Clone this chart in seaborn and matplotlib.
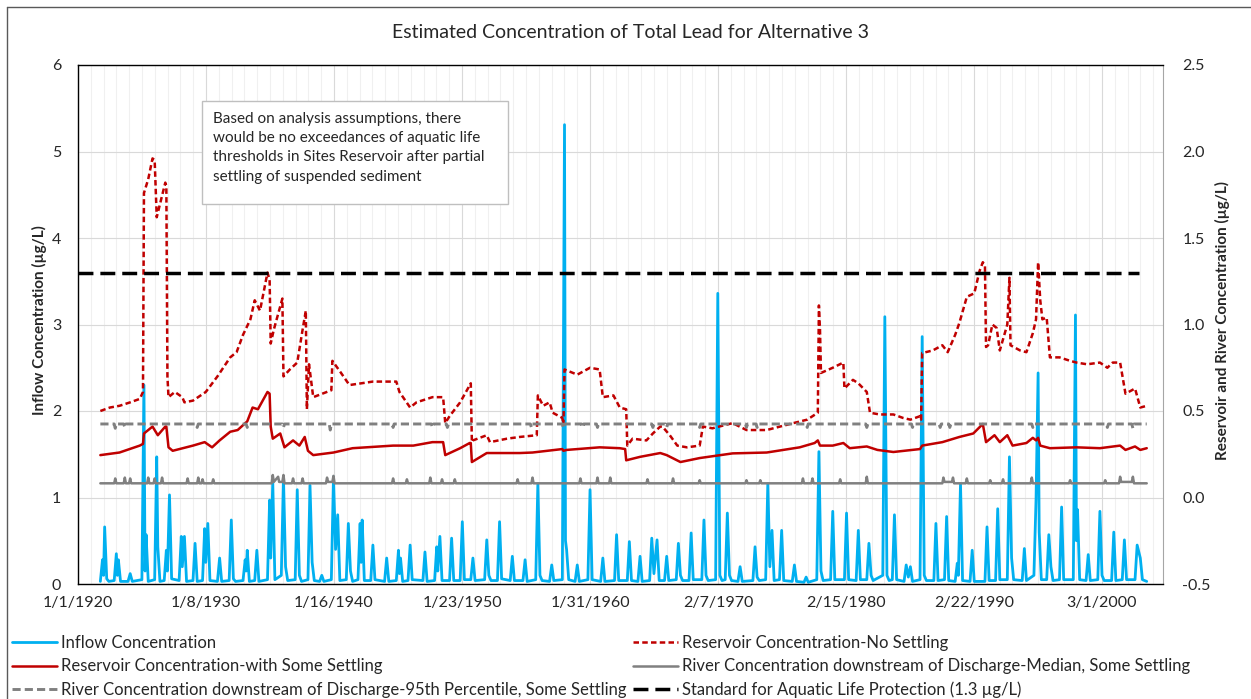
import pandas as pd
import seaborn as sns
import matplotlib.pyplot as plt
from matplotlib.lines import Line2D
from matplotlib.patches import Rectangle


## DATA (monthly)
inflow = [
    ("1921-10", 0.03), ("1921-12", 0.28), ("1922-01", 0.10), ("1922-02", 0.66), ("1922-04", 0.06),
    ("1922-06", 0.03), ("1922-11", 0.04), ("1923-01", 0.35), ("1923-02", 0.10), ("1923-03", 0.28),
    ("1923-05", 0.03), ("1923-12", 0.03), ("1924-02", 0.12), ("1924-04", 0.03), ("1925-01", 0.05),
    ("1925-03", 2.30), ("1925-04", 0.15), ("1925-05", 0.57), ("1925-07", 0.03), ("1926-01", 0.05),
    ("1926-03", 1.47), ("1926-04", 0.43), ("1926-06", 0.03), ("1926-10", 0.04), ("1926-12", 0.39),
    ("1927-01", 0.15), ("1927-03", 1.03), ("1927-05", 0.06), ("1927-12", 0.04), ("1928-02", 0.55),
    ("1928-03", 0.20), ("1928-05", 0.55), ("1928-07", 0.03), ("1929-01", 0.04), ("1929-03", 0.47),
    ("1929-05", 0.03), ("1929-10", 0.04), ("1929-12", 0.64), ("1930-01", 0.25), ("1930-03", 0.70),
    ("1930-05", 0.04), ("1930-12", 0.03), ("1931-02", 0.30), ("1931-04", 0.03), ("1931-11", 0.04),
    ("1932-01", 0.74), ("1932-03", 0.06), ("1932-05", 0.03), ("1932-12", 0.04), ("1933-02", 0.28),
    ("1933-03", 0.15), ("1933-04", 0.39), ("1933-06", 0.03), ("1933-11", 0.04), ("1934-01", 0.39),
    ("1934-03", 0.03), ("1934-11", 0.05), ("1935-01", 0.97), ("1935-02", 0.30), ("1935-04", 1.18),
    ("1935-06", 0.05), ("1935-12", 0.10), ("1936-02", 1.24), ("1936-04", 0.20), ("1936-06", 0.04),
    ("1937-01", 0.05), ("1937-03", 1.09), ("1937-05", 0.10), ("1937-07", 0.03), ("1938-01", 0.05),
    ("1938-03", 1.14), ("1938-05", 0.25), ("1938-07", 0.04), ("1938-12", 0.03), ("1939-02", 0.10),
    ("1939-04", 0.03), ("1939-11", 0.05), ("1940-01", 1.24), ("1940-03", 0.40), ("1940-05", 0.80),
    ("1940-07", 0.04), ("1941-01", 0.05), ("1941-03", 0.70), ("1941-05", 0.15), ("1941-07", 0.03),
    ("1941-12", 0.05), ("1942-02", 0.70), ("1942-03", 0.25), ("1942-04", 0.74), ("1942-06", 0.04),
    ("1942-12", 0.04), ("1943-02", 0.45), ("1943-04", 0.05), ("1944-01", 0.03), ("1944-03", 0.30),
    ("1944-05", 0.03), ("1944-12", 0.04), ("1945-02", 0.39), ("1945-03", 0.12), ("1945-04", 0.30),
    ("1945-06", 0.03), ("1945-11", 0.04), ("1946-01", 0.45), ("1946-03", 0.05), ("1947-01", 0.04),
    ("1947-03", 0.37), ("1947-05", 0.03), ("1947-12", 0.04), ("1948-02", 0.43), ("1948-03", 0.15),
    ("1948-05", 0.55), ("1948-07", 0.04), ("1949-02", 0.04), ("1949-04", 0.53), ("1949-06", 0.04),
    ("1949-12", 0.04), ("1950-02", 0.72), ("1950-04", 0.05), ("1950-10", 0.05), ("1950-12", 0.30),
    ("1951-02", 0.04), ("1951-11", 0.05), ("1952-01", 0.51), ("1952-03", 0.10), ("1952-05", 0.04),
    ("1952-11", 0.04), ("1953-01", 0.72), ("1953-03", 0.06), ("1953-11", 0.04), ("1954-01", 0.32),
    ("1954-03", 0.04), ("1954-11", 0.04), ("1955-01", 0.28), ("1955-03", 0.03), ("1955-11", 0.05),
    ("1956-01", 1.16), ("1956-03", 0.10), ("1956-05", 0.04), ("1956-12", 0.03), ("1957-02", 0.22),
    ("1957-04", 0.04), ("1957-12", 0.05), ("1958-02", 5.31), ("1958-03", 0.50), ("1958-04", 0.40),
    ("1958-06", 0.05), ("1958-12", 0.03), ("1959-02", 0.22), ("1959-04", 0.03), ("1959-12", 0.05),
    ("1960-02", 1.09), ("1960-04", 0.05), ("1960-12", 0.03), ("1961-02", 0.30), ("1961-04", 0.03),
    ("1962-01", 0.04), ("1962-03", 0.57), ("1962-05", 0.04), ("1963-01", 0.04), ("1963-03", 0.49),
    ("1963-05", 0.04), ("1963-11", 0.03), ("1964-01", 0.32), ("1964-03", 0.03), ("1964-10", 0.04),
    ("1964-12", 0.53), ("1965-02", 0.12), ("1965-05", 0.51), ("1965-07", 0.04), ("1965-12", 0.04),
    ("1966-02", 0.32), ("1966-04", 0.04), ("1966-11", 0.05), ("1967-01", 0.47), ("1967-03", 0.10),
    ("1967-05", 0.04), ("1967-11", 0.04), ("1968-01", 0.59), ("1968-03", 0.05), ("1968-11", 0.05),
    ("1969-01", 0.74), ("1969-03", 0.10), ("1969-05", 0.04), ("1969-12", 0.05), ("1970-02", 3.36),
    ("1970-04", 0.10), ("1970-06", 0.04), ("1970-09", 0.05), ("1970-11", 0.82), ("1971-01", 0.10),
    ("1971-03", 0.04), ("1971-09", 0.03), ("1971-11", 0.20), ("1972-01", 0.03), ("1972-11", 0.04),
    ("1973-01", 0.43), ("1973-03", 0.08), ("1973-05", 0.04), ("1973-11", 0.05), ("1974-01", 1.16),
    ("1974-03", 0.20), ("1974-05", 0.62), ("1974-07", 0.04), ("1974-12", 0.05), ("1975-02", 0.62),
    ("1975-04", 0.04), ("1975-12", 0.03), ("1976-02", 0.22), ("1976-04", 0.03), ("1976-11", 0.02),
    ("1977-01", 0.08), ("1977-03", 0.02), ("1977-11", 0.05), ("1978-01", 1.53), ("1978-03", 0.15),
    ("1978-05", 0.04), ("1978-12", 0.05), ("1979-02", 0.84), ("1979-04", 0.05), ("1980-01", 0.05),
    ("1980-03", 0.82), ("1980-05", 0.05), ("1980-12", 0.04), ("1981-02", 0.62), ("1981-04", 0.05),
    ("1981-10", 0.05), ("1981-12", 0.47), ("1982-02", 0.10), ("1982-04", 0.04), ("1983-01", 0.10),
    ("1983-03", 3.09), ("1983-05", 0.10), ("1983-07", 0.04), ("1983-10", 0.05), ("1983-12", 0.80),
    ("1984-02", 0.05), ("1984-09", 0.03), ("1984-11", 0.22), ("1985-01", 0.08), ("1985-03", 0.20),
    ("1985-05", 0.03), ("1985-12", 0.05), ("1986-02", 2.86), ("1986-04", 0.10), ("1986-06", 0.04),
    ("1987-01", 0.04), ("1987-03", 0.70), ("1987-05", 0.04), ("1987-11", 0.05), ("1988-01", 0.78),
    ("1988-03", 0.04), ("1988-09", 0.03), ("1988-11", 0.24), ("1988-12", 0.10), ("1989-02", 1.16),
    ("1989-04", 0.04), ("1989-11", 0.03), ("1990-01", 0.39), ("1990-03", 0.03), ("1991-01", 0.03),
    ("1991-03", 0.66), ("1991-05", 0.04), ("1991-11", 0.04), ("1992-01", 0.87), ("1992-03", 0.05),
    ("1992-10", 0.05), ("1992-12", 1.47), ("1993-02", 0.30), ("1993-04", 0.05), ("1993-12", 0.04),
    ("1994-02", 0.41), ("1994-04", 0.04), ("1994-11", 0.10), ("1995-01", 0.98), ("1995-03", 2.44),
    ("1995-04", 0.60), ("1995-06", 0.05), ("1995-11", 0.05), ("1996-01", 0.57), ("1996-03", 0.20),
    ("1996-05", 0.04), ("1996-11", 0.05), ("1997-01", 0.89), ("1997-03", 0.05), ("1997-12", 0.05),
    ("1998-02", 3.11), ("1998-03", 0.50), ("1998-04", 0.86), ("1998-06", 0.05), ("1998-12", 0.04),
    ("1999-02", 0.34), ("1999-04", 0.04), ("1999-11", 0.05), ("2000-01", 0.84), ("2000-03", 0.10),
    ("2000-05", 0.04), ("2000-12", 0.04), ("2001-02", 0.60), ("2001-04", 0.04), ("2001-10", 0.05),
    ("2001-12", 0.51), ("2002-02", 0.05), ("2002-10", 0.05), ("2002-12", 0.45), ("2003-01", 0.40),
    ("2003-03", 0.30), ("2003-05", 0.05), ("2003-09", 0.03),
]

res_no_settling = [
    ("1921-10", 0.50), ("1922-07", 0.52), ("1923-04", 0.53), ("1924-02", 0.55), ("1924-11", 0.57),
    ("1925-02", 0.61), ("1925-03", 1.76), ("1925-07", 1.84), ("1925-11", 1.96), ("1926-01", 1.95),
    ("1926-03", 1.62), ("1926-07", 1.72), ("1926-11", 1.82), ("1926-12", 1.80), ("1927-01", 0.70),
    ("1927-02", 0.58), ("1927-08", 0.61), ("1928-03", 0.58), ("1928-05", 0.55), ("1929-01", 0.56),
    ("1930-01", 0.61), ("1930-12", 0.70), ("1931-12", 0.81), ("1932-06", 0.84), ("1932-12", 0.94),
    ("1933-07", 1.03), ("1933-11", 1.14), ("1934-04", 1.08), ("1934-11", 1.30), ("1935-01", 1.26),
    ("1935-02", 0.89), ("1935-05", 0.97), ("1936-01", 1.15), ("1936-02", 0.70), ("1936-08", 0.74),
    ("1937-03", 0.78), ("1937-08", 0.97), ("1937-11", 1.08), ("1937-12", 0.51), ("1938-02", 0.77),
    ("1938-06", 0.58), ("1939-11", 0.62), ("1939-12", 0.79), ("1940-07", 0.73), ("1941-04", 0.65),
    ("1943-02", 0.67), ("1944-12", 0.67), ("1945-03", 0.61), ("1946-01", 0.52), ("1946-07", 0.55),
    ("1947-10", 0.58), ("1948-08", 0.58), ("1948-10", 0.43), ("1949-02", 0.47), ("1949-12", 0.55),
    ("1950-10", 0.66), ("1950-11", 0.32), ("1950-12", 0.33), ("1952-01", 0.36), ("1952-04", 0.32),
    ("1953-08", 0.34), ("1954-08", 0.35), ("1955-12", 0.36), ("1956-01", 0.59), ("1956-06", 0.53),
    ("1956-12", 0.55), ("1957-03", 0.49), ("1957-12", 0.46), ("1958-01", 0.42), ("1958-02", 0.74),
    ("1959-02", 0.71), ("1960-02", 0.75), ("1960-11", 0.74), ("1961-02", 0.58), ("1961-12", 0.59),
    ("1962-06", 0.52), ("1962-12", 0.51), ("1963-01", 0.30), ("1963-06", 0.34), ("1964-07", 0.33),
    ("1965-01", 0.37), ("1965-08", 0.41), ("1965-10", 0.41), ("1966-05", 0.36), ("1966-12", 0.30),
    ("1967-09", 0.29), ("1968-09", 0.30), ("1968-12", 0.41), ("1969-09", 0.40), ("1971-04", 0.43),
    ("1972-05", 0.39), ("1973-12", 0.39), ("1976-01", 0.43), ("1977-02", 0.45), ("1977-12", 0.49),
    ("1978-01", 1.11), ("1978-02", 0.97), ("1978-03", 0.72), ("1979-02", 0.75), ("1979-12", 0.78),
    ("1980-01", 0.63), ("1980-09", 0.68), ("1981-02", 0.66), ("1981-10", 0.61), ("1982-01", 0.49),
    ("1982-10", 0.48), ("1983-11", 0.48), ("1984-08", 0.46), ("1985-03", 0.45), ("1985-12", 0.47),
    ("1986-01", 0.45), ("1986-02", 0.835), ("1986-12", 0.85), ("1987-09", 0.88), ("1988-02", 0.84),
    ("1988-09", 0.94), ("1989-01", 1.01), ("1989-08", 1.16), ("1990-03", 1.18), ("1990-08", 1.31),
    ("1990-11", 1.36), ("1991-01", 1.34), ("1991-02", 0.87), ("1991-04", 0.88), ("1991-08", 1.00),
    ("1991-12", 0.98), ("1992-03", 0.85), ("1992-10", 1.00), ("1992-12", 1.27), ("1993-01", 0.88),
    ("1993-10", 0.85), ("1994-04", 0.84), ("1994-10", 0.95), ("1995-01", 1.03), ("1995-03", 1.36),
    ("1995-05", 1.14), ("1995-07", 1.03), ("1995-11", 1.04), ("1996-02", 0.81), ("1996-11", 0.81),
    ("1997-09", 0.79), ("1998-03", 0.78), ("1999-01", 0.77), ("2000-01", 0.78), ("2000-08", 0.75),
    ("2001-01", 0.78), ("2001-08", 0.78), ("2002-01", 0.60), ("2002-10", 0.63), ("2003-03", 0.52),
    ("2003-09", 0.53),
]

res_some_settling = [
    ("1921-10", 0.245), ("1923-04", 0.26), ("1924-11", 0.30), ("1925-02", 0.31), ("1925-03", 0.37),
    ("1925-11", 0.41), ("1926-04", 0.36), ("1926-11", 0.41), ("1926-12", 0.41), ("1927-02", 0.29),
    ("1927-06", 0.27), ("1929-01", 0.30), ("1929-12", 0.32), ("1930-07", 0.29), ("1931-02", 0.33),
    ("1931-12", 0.38), ("1932-07", 0.39), ("1933-04", 0.44), ("1933-09", 0.52), ("1934-02", 0.51),
    ("1934-11", 0.61), ("1935-01", 0.60), ("1935-02", 0.41), ("1935-04", 0.34), ("1935-11", 0.37),
    ("1936-03", 0.29), ("1936-11", 0.33), ("1937-05", 0.30), ("1937-10", 0.35), ("1938-01", 0.27),
    ("1938-06", 0.245), ("1940-01", 0.26), ("1941-07", 0.285), ("1944-09", 0.30), ("1946-04", 0.30),
    ("1947-10", 0.32), ("1948-08", 0.32), ("1948-10", 0.245), ("1949-12", 0.285), ("1950-09", 0.315),
    ("1950-10", 0.315), ("1950-11", 0.205), ("1952-01", 0.257), ("1954-08", 0.257), ("1955-08", 0.26),
    ("1957-12", 0.28), ("1958-01", 0.27), ("1958-04", 0.275), ("1960-11", 0.29), ("1962-06", 0.285),
    ("1962-11", 0.28), ("1962-12", 0.215), ("1964-01", 0.235), ("1965-08", 0.257), ("1966-02", 0.245),
    ("1967-03", 0.205), ("1968-09", 0.228), ("1971-04", 0.255), ("1973-12", 0.26), ("1976-07", 0.29),
    ("1977-09", 0.315), ("1977-12", 0.33), ("1978-02", 0.30), ("1979-02", 0.30), ("1979-12", 0.315),
    ("1980-06", 0.285), ("1981-10", 0.295), ("1982-08", 0.275), ("1983-11", 0.263), ("1985-12", 0.28),
    ("1986-02", 0.30), ("1987-09", 0.32), ("1989-01", 0.35), ("1990-02", 0.37), ("1990-11", 0.425),
    ("1991-02", 0.32), ("1991-10", 0.36), ("1992-03", 0.32), ("1992-10", 0.36), ("1993-03", 0.30),
    ("1994-04", 0.315), ("1994-10", 0.345), ("1995-01", 0.33), ("1995-03", 0.345), ("1995-05", 0.30),
    ("1996-02", 0.285), ("1998-03", 0.29), ("2000-01", 0.285), ("2001-08", 0.30), ("2002-01", 0.275),
    ("2002-10", 0.295), ("2003-03", 0.275), ("2003-09", 0.285),
]

river_median = [
    ("1921-10", 0.082), ("1922-11", 0.082), ("1922-12", 0.11), ("1923-01", 0.082), ("1923-08", 0.082),
    ("1923-09", 0.115), ("1923-10", 0.082), ("1924-01", 0.082), ("1924-02", 0.11), ("1924-03", 0.082),
    ("1925-06", 0.082), ("1925-07", 0.115), ("1925-08", 0.082), ("1925-12", 0.082), ("1926-01", 0.11),
    ("1926-02", 0.082), ("1926-07", 0.082), ("1926-08", 0.115), ("1926-09", 0.082), ("1928-07", 0.082),
    ("1928-08", 0.11), ("1928-09", 0.082), ("1929-05", 0.082), ("1929-06", 0.115), ("1929-07", 0.082),
    ("1929-09", 0.082), ("1929-10", 0.105), ("1929-11", 0.082), ("1930-07", 0.082), ("1930-08", 0.105),
    ("1930-09", 0.082), ("1935-03", 0.082), ("1935-04", 0.13), ("1935-05", 0.09), ("1935-09", 0.12),
    ("1935-10", 0.09), ("1936-01", 0.09), ("1936-02", 0.13), ("1936-03", 0.082), ("1936-10", 0.082),
    ("1936-11", 0.11), ("1936-12", 0.082), ("1937-07", 0.082), ("1937-08", 0.11), ("1937-09", 0.082),
    ("1939-06", 0.082), ("1939-07", 0.115), ("1939-08", 0.09), ("1939-12", 0.09), ("1940-01", 0.125),
    ("1940-02", 0.082), ("1944-08", 0.082), ("1944-09", 0.11), ("1944-10", 0.082), ("1945-09", 0.082),
    ("1945-10", 0.105), ("1945-11", 0.082), ("1947-07", 0.082), ("1947-08", 0.115), ("1947-09", 0.082),
    ("1948-06", 0.082), ("1948-07", 0.105), ("1948-08", 0.082), ("1949-06", 0.082), ("1949-07", 0.105),
    ("1949-08", 0.082), ("1954-05", 0.082), ("1954-06", 0.105), ("1954-07", 0.082), ("1955-07", 0.082),
    ("1955-08", 0.115), ("1955-09", 0.082), ("1959-04", 0.082), ("1959-05", 0.11), ("1959-06", 0.082),
    ("1960-08", 0.082), ("1960-09", 0.115), ("1960-10", 0.082), ("1961-08", 0.082), ("1961-09", 0.115),
    ("1961-10", 0.082), ("1964-07", 0.082), ("1964-08", 0.105), ("1964-09", 0.082), ("1966-07", 0.082),
    ("1966-08", 0.11), ("1966-09", 0.082), ("1968-08", 0.082), ("1968-09", 0.10), ("1968-10", 0.082),
    ("1972-04", 0.082), ("1972-05", 0.10), ("1972-06", 0.082), ("1973-05", 0.082), ("1973-06", 0.10),
    ("1973-07", 0.082), ("1976-09", 0.082), ("1976-10", 0.11), ("1976-11", 0.082), ("1977-06", 0.082),
    ("1977-07", 0.11), ("1977-08", 0.082), ("1979-08", 0.082), ("1979-09", 0.105), ("1979-10", 0.082),
    ("1981-09", 0.082), ("1981-10", 0.12), ("1981-11", 0.082), ("1987-09", 0.082), ("1987-10", 0.115),
    ("1987-11", 0.09), ("1988-06", 0.09), ("1988-07", 0.115), ("1988-08", 0.082), ("1989-07", 0.082),
    ("1989-08", 0.11), ("1989-09", 0.082), ("1991-05", 0.082), ("1991-06", 0.10), ("1991-07", 0.082),
    ("1992-05", 0.082), ("1992-06", 0.105), ("1992-07", 0.082), ("1994-08", 0.082), ("1994-09", 0.115),
    ("1994-10", 0.082), ("1997-08", 0.082), ("1997-09", 0.10), ("1997-10", 0.082), ("2000-05", 0.082),
    ("2000-06", 0.10), ("2000-07", 0.082), ("2001-07", 0.082), ("2001-08", 0.12), ("2001-09", 0.09),
    ("2002-07", 0.09), ("2002-08", 0.12), ("2002-09", 0.082), ("2003-09", 0.082),
]

river_95th = [
    ("1921-10", 0.425), ("1922-11", 0.425), ("1922-12", 0.40), ("1923-01", 0.425), ("1923-08", 0.425),
    ("1923-09", 0.405), ("1923-10", 0.425), ("1929-04", 0.425), ("1929-05", 0.405), ("1929-06", 0.425),
    ("1933-03", 0.425), ("1933-04", 0.405), ("1933-05", 0.425), ("1936-01", 0.425), ("1936-02", 0.405),
    ("1936-03", 0.425), ("1939-09", 0.425), ("1939-10", 0.39), ("1939-11", 0.425), ("1944-08", 0.425),
    ("1944-09", 0.405), ("1944-10", 0.425), ("1947-09", 0.425), ("1947-10", 0.405), ("1947-11", 0.425),
    ("1948-11", 0.425), ("1948-12", 0.405), ("1949-01", 0.425), ("1955-06", 0.425), ("1955-07", 0.405),
    ("1955-08", 0.425), ("1957-12", 0.425), ("1958-01", 0.40), ("1958-02", 0.425), ("1959-06", 0.425),
    ("1959-07", 0.405), ("1959-08", 0.425), ("1960-08", 0.425), ("1960-09", 0.405), ("1960-10", 0.425),
    ("1964-12", 0.425), ("1965-01", 0.405), ("1965-02", 0.425), ("1966-01", 0.425), ("1966-02", 0.405),
    ("1966-03", 0.425), ("1968-08", 0.425), ("1968-09", 0.405), ("1968-10", 0.425), ("1972-04", 0.425),
    ("1972-05", 0.405), ("1972-06", 0.425), ("1973-02", 0.425), ("1973-03", 0.405), ("1973-04", 0.425),
    ("1977-01", 0.425), ("1977-02", 0.405), ("1977-03", 0.425), ("1981-09", 0.425), ("1981-10", 0.405),
    ("1981-11", 0.425), ("1985-04", 0.425), ("1985-05", 0.405), ("1985-06", 0.425), ("1987-06", 0.425),
    ("1987-07", 0.405), ("1987-08", 0.425), ("1988-03", 0.425), ("1988-04", 0.405), ("1988-05", 0.425),
    ("1994-09", 0.425), ("1994-10", 0.405), ("1994-11", 0.425), ("2000-07", 0.425), ("2000-08", 0.405),
    ("2000-09", 0.425), ("2002-07", 0.425), ("2002-08", 0.40), ("2002-09", 0.425), ("2003-09", 0.425),
]

standard = [("1920-01", 1.3), ("2003-02", 1.3)]

x_tick_labels = ['1/1/1920', '1/8/1930', '1/16/1940', '1/23/1950', '1/31/1960',
                 '2/7/1970', '2/15/1980', '2/22/1990', '3/1/2000']
left_ticks = [0, 1, 2, 3, 4, 5, 6]
right_ticks = [-0.5, 0.0, 0.5, 1.0, 1.5, 2.0, 2.5]

labels = ['Inflow Concentration',
          'Reservoir Concentration-with Some Settling',
          'River Concentration downstream of Discharge-95th Percentile, Some Settling',
          'Reservoir Concentration-No Settling',
          'River Concentration downstream of Discharge-Median, Some Settling',
          'Standard for Aquatic Life Protection (1.3 µg/L)']

note = ('Based on analysis assumptions, there\n'
        'would be no exceedances of aquatic life\n'
        'thresholds in Sites Reservoir after partial\n'
        'settling of suspended sediment')


def to_frame(pts):
    df = pd.DataFrame(pts, columns=['month', 'value'])
    df['date'] = pd.to_datetime(df['month'], format='%Y-%m')
    return df


## STYLE
sns.set_style('white')
plt.rcParams['font.family'] = ['Lato', 'DejaVu Sans']
TXT = '#262626'

W, H = 1251, 699
fig = plt.figure(figsize=(W / 100, H / 100), dpi=100)
ax = fig.add_axes([78 / W, 1 - 584 / H, (1163 - 78) / W, (584 - 65) / H])
ax2 = ax.twinx()

# (color, linewidth, linestyle) for each series
st_inflow = ('#00B0F0', 2.0, '-')
st_nosettle = ('#C00000', 1.8, (0, (2.2, 1.3)))
st_settle = ('#C00000', 1.8, '-')
st_median = ('#808080', 1.8, '-')
st_95 = ('#808080', 2.1, (0, (2.8, 1.4)))
st_std = ('black', 2.5, (0, (4.3, 2.0)))

series = [
    (ax, inflow, st_inflow),
    (ax2, res_no_settling, st_nosettle),
    (ax2, res_some_settling, st_settle),
    (ax2, river_median, st_median),
    (ax2, river_95th, st_95),
    (ax2, standard, st_std),
]
for a, pts, (c, lw, ls) in series:
    sns.lineplot(data=to_frame(pts), x='date', y='value', ax=a, color=c,
                 linewidth=lw, linestyle=ls, estimator=None, sort=False,
                 legend=False)

## AXES
start = pd.Timestamp('1920-01-01')
end = start + pd.Timedelta(days=31024)
ax.set_xlim(start, end)
ax2.set_xlim(start, end)
ax.set_ylim(0, 6)
ax2.set_ylim(-0.5, 2.5)

ax.set_xticks(pd.to_datetime(x_tick_labels, format='%m/%d/%Y'))
ax.set_xticklabels(x_tick_labels)
ax.set_xticks(pd.date_range(start, end, freq='366D'), minor=True)
ax.set_yticks(left_ticks)
ax.set_yticklabels([str(t) for t in left_ticks])
ax2.set_yticks(right_ticks)
ax2.set_yticklabels([f'{t:.1f}' for t in right_ticks])

ax.grid(which='minor', axis='x', color='#f0f0f0', linewidth=0.8)
ax.grid(which='major', axis='x', color='#d9d9d9', linewidth=0.8)
ax.grid(which='major', axis='y', color='#d9d9d9', linewidth=0.8)
ax.set_axisbelow(True)

ax.tick_params(which='both', length=0, labelsize=11.5, colors=TXT)
ax.tick_params(axis='y', pad=12)
ax.tick_params(axis='x', pad=9)
ax2.tick_params(length=0, labelsize=11.5, colors=TXT, pad=14)
ax.set_xlabel('')
ax.set_ylabel('')
ax2.set_ylabel('')

for s in ['left', 'top', 'bottom']:
    ax.spines[s].set_color('black')
    ax.spines[s].set_linewidth(1.0)
ax.spines['right'].set_color('#a6a6a6')
for s in ax2.spines.values():
    s.set_visible(False)

## TEXTS
fig.text(630 / W, 1 - 32 / H, 'Estimated Concentration of Total Lead for Alternative 3',
         ha='center', va='center', fontsize=14, color=TXT)
fig.text(39 / W, 1 - 320 / H, 'Inflow Concentration (µg/L)', rotation=90,
         ha='center', va='center', fontsize=11, fontweight='bold', color=TXT)
fig.text(1222 / W, 1 - 320 / H, 'Reservoir and River Concentration (µg/L)', rotation=90,
         ha='center', va='center', fontsize=11, fontweight='bold', color=TXT)

fig.add_artist(Rectangle((202 / W, 1 - 204 / H), 306 / W, 103 / H,
                         transform=fig.transFigure, facecolor='white',
                         edgecolor='#bfbfbf', linewidth=1.0, zorder=5))
fig.text(213 / W, 1 - 112 / H, note, ha='left', va='top', fontsize=11,
         linespacing=1.47, color=TXT, zorder=6)

# chart-area border
fig.add_artist(Line2D([7 / W, 1], [1 - 7 / H, 1 - 7 / H], transform=fig.transFigure,
                      color='#595959', linewidth=1.0))
fig.add_artist(Line2D([7 / W, 7 / W], [0, 1 - 7 / H], transform=fig.transFigure,
                      color='#595959', linewidth=1.0))

## LEGEND
order = [st_inflow, st_settle, st_95, st_nosettle, st_median, st_std]
handles = [Line2D([], [], color=c, linewidth=lw, linestyle=ls) for c, lw, ls in order]
fig.legend(handles, labels, ncol=2, loc='upper left',
           bbox_to_anchor=(12 / W, 1 - 635 / H), frameon=False, fontsize=12,
           handlelength=2.7, handletextpad=0.25, columnspacing=0.4,
           labelspacing=0.44, borderpad=0, borderaxespad=0,
           labelcolor=TXT)

fig.savefig('out.png', dpi=100)
